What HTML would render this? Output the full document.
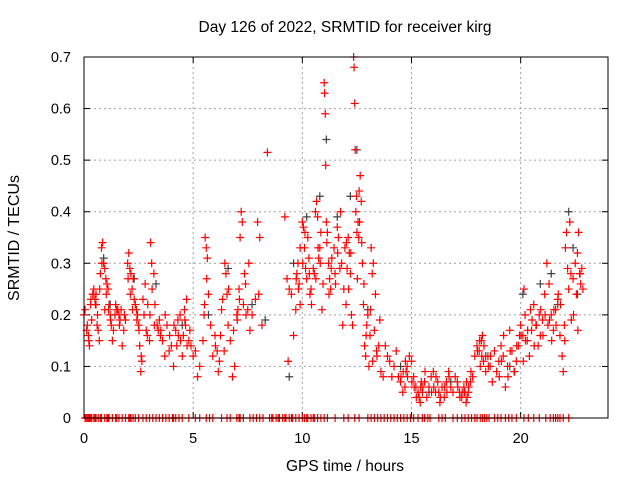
<!DOCTYPE html>
<html><head><meta charset="utf-8"><style>
body{margin:0;background:#fff}
svg{display:block;font-family:"Liberation Sans",sans-serif}
</style></head><body>
<svg id="chart" width="640" height="480" viewBox="0 0 640 480">
<rect width="640" height="480" fill="#fff"/>
<text x="345" y="32" font-size="15.5" text-anchor="middle">Day 126 of 2022, SRMTID for receiver kirg</text>
<text transform="translate(19,238) rotate(-90)" font-size="16" text-anchor="middle">SRMTID / TECUs</text>
<text x="345" y="471" font-size="15.5" text-anchor="middle">GPS time / hours</text>
<g id="grid"></g>
<g id="ticks"></g>
<g id="zeros"></g>
<g id="gray"></g>
<g id="red"></g>
<rect x="84" y="57" width="524" height="361" fill="none" stroke="#000" stroke-width="1"/>
</svg>
<script>
const xTicks=[0,5,10,15,20];
const yTicks=[0,0.1,0.2,0.3,0.4,0.5,0.6,0.7];
const yTickLabels=["0","0.1","0.2","0.3","0.4","0.5","0.6","0.7"];
const redT=[0.0,0.05,0.15,0.2,0.25,0.3,0.35,0.4,0.45,0.5,0.55,0.6,0.65,0.7,0.75,0.8,0.85,0.9,0.95,1.0,1.05,1.1,1.15,1.2,1.25,1.3,1.35,1.45,1.5,1.6,1.65,1.7,1.75,1.85,1.9,2.0,2.05,2.1,2.15,2.2,2.3,2.35,2.4,2.45,2.5,2.55,2.6,2.65,2.7,2.8,2.85,2.9,3.0,3.05,3.1,3.2,3.25,3.35,3.4,3.5,3.6,3.7,3.8,3.9,4.0,4.1,4.2,4.3,4.4,4.5,4.55,4.6,4.7,4.8,4.85,4.9,5.0,5.1,5.2,5.3,5.45,5.5,5.55,5.6,5.65,5.7,5.8,5.9,6.0,6.1,6.15,6.2,6.3,6.35,6.45,6.5,6.6,6.7,6.8,6.85,6.9,7.0,7.05,7.1,7.15,7.2,7.25,7.3,7.4,7.5,7.55,7.6,7.7,7.85,7.95,8.05,8.15,8.4,9.2,9.3,9.35,9.4,9.5,9.6,9.7,9.75,9.8,9.85,9.9,10.0,10.05,10.1,10.15,10.2,10.3,10.35,10.4,10.5,10.55,10.6,10.65,10.7,10.75,10.8,10.85,10.9,10.95,11.0,11.02,11.05,11.07,11.1,11.15,11.2,11.25,11.3,11.35,11.45,11.5,11.6,11.65,11.75,11.8,11.85,11.9,12.0,12.05,12.1,12.15,12.2,12.25,12.3,12.35,12.37,12.4,12.42,12.45,12.5,12.55,12.6,12.65,12.7,12.75,12.8,12.85,12.9,12.95,13.0,13.05,13.1,13.15,13.2,13.3,13.35,13.4,13.5,13.6,13.7,13.8,13.9,14.0,14.1,14.2,14.3,14.4,14.5,14.6,14.7,14.75,14.8,14.9,15.0,15.1,15.2,15.3,15.4,15.5,15.6,15.7,15.8,15.9,16.0,16.1,16.2,16.3,16.4,16.5,16.6,16.7,16.8,16.9,17.0,17.1,17.2,17.3,17.4,17.5,17.6,17.7,17.8,17.9,18.0,18.1,18.2,18.3,18.4,18.5,18.6,18.7,18.8,18.9,19.0,19.1,19.2,19.3,19.4,19.5,19.6,19.7,19.8,19.9,20.0,20.1,20.15,20.2,20.3,20.4,20.5,20.6,20.7,20.8,20.9,21.0,21.1,21.2,21.3,21.4,21.5,21.6,21.7,21.8,21.9,22.0,22.05,22.1,22.15,22.2,22.25,22.3,22.4,22.5,22.55,22.6,22.65,22.7,22.75,22.8,22.85,21.95,20.85,19.95,20.45,21.25,18.25,18.15,17.55,17.45,16.25,15.35,15.45,13.55,13.25,12.48,12.58,11.95,10.25,9.9,8.0,7.35,6.55,6.25,4.65,4.25,3.45,2.75,2.25,1.55,0.55,0.95,
0.12,0.22,0.32,0.42,0.52,0.62,0.72,0.82,1.02,1.12,1.22,1.42,1.62,1.82,2.02,2.12,2.22,2.42,2.52,2.62,2.92,3.02,3.12,3.22,3.52,3.72,3.92,4.12,4.32,4.42,4.62,4.72,5.52,5.62,6.02,6.42,6.62,7.02,7.12,7.42,9.72,9.82,10.02,10.12,10.32,10.42,10.62,10.72,10.82,11.12,11.22,11.32,11.52,11.62,11.72,12.02,12.12,12.22,12.52,12.62,12.72,12.82,12.92,13.12,13.22,13.42,14.52,14.62,14.72,14.82,15.02,15.12,15.22,15.42,15.52,15.62,15.92,16.02,16.12,16.32,16.52,16.62,16.72,17.12,17.22,17.32,17.42,17.52,17.62,17.72,18.02,18.12,18.22,18.32,18.52,18.62,19.02,19.12,19.22,19.42,19.52,19.72,19.82,20.02,20.12,20.22,20.32,20.52,20.62,20.72,20.92,21.02,21.12,21.32,21.42,21.52,21.62,21.72,21.82,22.02,22.32,22.42,22.62,22.72];
const redV=[.20,.21,.18,.16,.14,.22,.19,.24,.25,.23,.22,.18,.17,.15,.28,.33,.34,.30,.29,.27,.26,.25,.22,.20,.18,.15,.17,.22,.21,.20,.19,.21,.14,.20,.19,.30,.32,.29,.28,.25,.23,.22,.21,.20,.18,.14,.09,.11,.23,.26,.17,.16,.15,.34,.30,.28,.22,.18,.17,.16,.15,.12,.18,.13,.14,.10,.17,.19,.20,.12,.16,.21,.23,.15,.17,.14,.12,.13,.08,.10,.15,.20,.35,.33,.31,.24,.18,.12,.16,.13,.09,.11,.21,.23,.30,.28,.18,.15,.08,.17,.10,.20,.21,.25,.35,.40,.38,.22,.26,.21,.30,.17,.20,.23,.38,.35,.18,.515,.39,.27,.11,.25,.24,.16,.21,.28,.30,.26,.22,.38,.37,.33,.29,.27,.31,.24,.25,.29,.28,.40,.42,.39,.31,.33,.36,.21,.26,.65,.63,.59,.49,.38,.36,.30,.27,.25,.31,.33,.28,.37,.35,.40,.30,.18,.25,.22,.29,.35,.32,.28,.20,.18,.70,.68,.61,.52,.40,.36,.38,.44,.47,.42,.30,.22,.14,.12,.18,.20,.10,.16,.33,.28,.17,.24,.13,.14,.09,.08,.14,.12,.11,.08,.10,.13,.08,.07,.05,.06,.09,.10,.12,.11,.08,.06,.05,.03,.05,.07,.04,.06,.08,.09,.05,.07,.03,.06,.04,.07,.09,.06,.05,.08,.07,.05,.04,.06,.03,.05,.07,.08,.12,.14,.13,.15,.11,.09,.12,.10,.07,.13,.09,.11,.14,.12,.06,.10,.17,.13,.09,.11,.14,.18,.16,.25,.20,.15,.12,.17,.22,.18,.14,.16,.19,.24,.30,.26,.20,.17,.21,.23,.16,.12,.18,.33,.36,.29,.25,.38,.28,.27,.30,.24,.32,.36,.28,.26,.29,.25,.09,.20,.16,.21,.18,.16,.10,.04,.05,.05,.04,.07,.19,.30,.43,.35,.33,.35,.33,.24,.28,.24,.16,.18,.14,.19,.20,.27,.21,.24,.21,
.17,.15,.23,.24,.22,.20,.25,.30,.24,.21,.19,.20,.18,.17,.27,.24,.21,.19,.17,.12,.22,.20,.25,.18,.17,.20,.16,.18,.16,.15,.19,.14,.22,.27,.14,.13,.25,.19,.23,.20,.27,.25,.30,.36,.28,.22,.27,.33,.30,.34,.24,.29,.26,.32,.29,.34,.25,.32,.27,.38,.34,.26,.16,.21,.11,.12,.08,.09,.11,.08,.07,.06,.04,.06,.06,.09,.05,.06,.08,.04,.06,.05,.08,.06,.04,.05,.05,.07,.06,.09,.13,.15,.12,.14,.10,.12,.08,.11,.16,.08,.13,.09,.14,.16,.11,.15,.17,.19,.14,.18,.21,.16,.20,.19,.15,.21,.18,.24,.22,.15,.19,.20,.17,.28,.22,.31,.27];
const grayT=[0.9,1.2,2.3,3.3,4.5,5.7,6.6,7.7,8.3,9.4,9.6,10.2,10.8,11.1,11.6,12.2,12.5,13.0,14.5,15.8,16.8,18.4,19.5,20.1,20.9,21.4,21.7,22.2,22.4,22.6];
const grayV=[.31,.22,.27,.26,.18,.20,.29,.22,.19,.08,.30,.39,.43,.54,.39,.43,.52,.21,.10,.05,.07,.12,.10,.24,.26,.28,.22,.40,.33,.24];
const zeroT=[0.05,0.1,0.15,0.2,0.25,0.3,0.35,0.45,0.5,0.55,0.65,0.75,0.8,0.95,1.05,1.1,1.15,1.3,1.45,1.5,1.6,1.75,1.9,2.05,2.1,2.15,2.25,2.35,2.5,2.7,2.85,3.0,3.15,3.3,3.45,3.6,3.75,3.9,4.05,4.1,4.2,4.35,4.5,4.8,5.1,5.3,5.6,5.75,5.9,6.3,6.55,6.7,7.0,7.1,7.15,7.3,7.6,7.75,7.9,8.05,8.2,8.5,8.6,8.65,8.8,8.9,8.95,9.1,9.2,9.25,9.4,9.5,9.55,9.7,9.85,10.0,10.1,10.2,10.25,10.4,10.5,10.55,10.7,10.85,11.0,11.15,11.5,11.9,12.1,12.4,12.6,13.0,13.15,13.3,13.45,13.6,13.75,13.9,14.05,14.2,14.35,14.5,14.65,14.8,14.95,15.1,15.3,15.5,15.6,15.75,15.85,16.25,16.4,16.55,16.9,17.1,17.3,17.45,17.6,17.75,17.9,18.0,18.15,18.25,18.35,18.45,18.55,18.8,18.95,19.1,19.3,19.45,19.6,19.8,20.15,20.35,20.6,20.85,21.15,21.35,21.5,21.6,21.7,21.8,21.95,22.2];
const NS="http://www.w3.org/2000/svg";
const X0=84,X1=608,Y0=418,Y1=57;
function sx(t){return X0+(X1-X0)*t/24;}
function sy(v){return Y0-(Y0-Y1)*v/0.7;}
function mk(tag,a,p){const e=document.createElementNS(NS,tag);for(const k in a)e.setAttribute(k,a[k]);p.appendChild(e);return e;}
const grid=document.getElementById('grid'),ticks=document.getElementById('ticks');
xTicks.forEach(t=>{const x=sx(t);
 if(t>0){const g=mk('line',{x1:x,y1:Y1,x2:x,y2:Y0,stroke:'#a0a0a0','stroke-dasharray':'2,3'},grid);
 
 }
 const a=mk('line',{x1:x,y1:Y0,x2:x,y2:Y0-6,stroke:'#000'},ticks);
 
 
 mk('line',{x1:x,y1:Y1,x2:x,y2:Y1+6,stroke:'#000'},ticks);
 const l=mk('text',{x:x,y:443,'font-size':14.5,'text-anchor':'middle'},ticks);l.textContent=t;
 
 });
yTicks.forEach((v,i)=>{const y=sy(v);
 if(v>0&&v<0.7){const g=mk('line',{x1:X0,y1:y,x2:X1,y2:y,stroke:'#a0a0a0','stroke-dasharray':'2,3'},grid);
 
 }
 const a=mk('line',{x1:X0,y1:y,x2:X0+6,y2:y,stroke:'#000'},ticks);
 
 
 mk('line',{x1:X1,y1:y,x2:X1-6,y2:y,stroke:'#000'},ticks);
 const l=mk('text',{x:71,y:y+5,'font-size':14.5,'text-anchor':'end'},ticks);l.textContent=yTickLabels[i];
 
 });
function plus(x,y,c,p){const e=mk('path',{d:`M${x-4},${y}h8M${x},${y-4}v8`,stroke:c,'stroke-width':1.2,fill:'none'},p);return e;}
const gz=document.getElementById('zeros');
zeroT.forEach(t=>{const e=plus(sx(t),sy(0),'#ff0000',gz);
 
 });
const gg=document.getElementById('gray');
grayT.forEach((t,i)=>{const e=plus(sx(t),sy(grayV[i]),'#404040',gg);
 
 });
const gr=document.getElementById('red');
redT.forEach((t,i)=>{const e=plus(sx(t),sy(redV[i]),'#ff0000',gr);
 
 });
</script>
</body></html>
